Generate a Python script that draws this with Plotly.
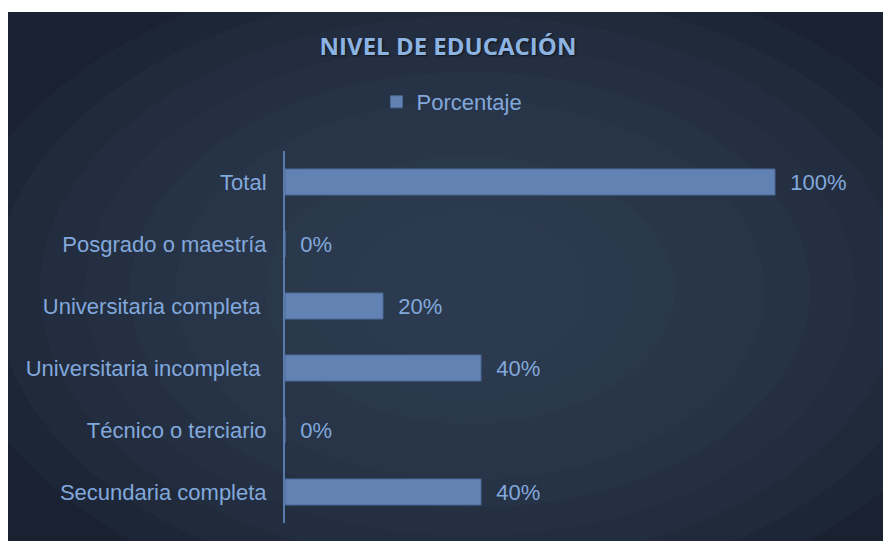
import plotly.graph_objects as go

categories = ["Total", "Posgrado o maestría", "Universitaria completa ", "Universitaria incompleta ",
              "Técnico o terciario", "Secundaria completa"]
values = [1.00, 0.00, 0.20, 0.40, 0.00, 0.40]
series_name = "Porcentaje"
title_text = "NIVEL DE EDUCACIÓN"

W, H = 891, 543
OFF = 8  # page body margin
L, T = 285 - OFF, 151 - OFF
Rpx, Bpx = 873 - OFF, 523 - OFF
R, B = W - Rpx, H - Bpx
pw, ph = Rpx - L, Bpx - T

def px(x):
    return (x - OFF - L) / pw

def py(y):
    return (Bpx - (y - OFF)) / ph

label_col = "#82a8dc"
fig = go.Figure()
fig.add_trace(go.Bar(
    y=categories, x=values, orientation="h", name=series_name,
    marker=dict(color="#6282b3", line=dict(color="#4a6896", width=1)),
    texttemplate="\u00a0\u00a0%{x:.0%}", textposition="outside",
    textfont=dict(family="Liberation Sans, Arial", size=22, color=label_col),
    cliponaxis=False, showlegend=True,
))

shapes = [dict(type="rect", xref="paper", yref="paper", x0=px(6), x1=px(905), y0=py(541), y1=py(12),
               fillcolor="#1a2232", line=dict(width=0), layer="below")]
cx, cy = 470, 290
for i in range(10):
    rx = 520 - i * 45
    ry = 330 - i * 28
    shapes.append(dict(type="circle", xref="paper", yref="paper",
                       x0=px(cx - rx), x1=px(cx + rx), y0=py(cy + ry), y1=py(cy - ry),
                       fillcolor="#34445e", opacity=0.13, line=dict(width=0), layer="below"))
shapes += [
    dict(type="rect", xref="paper", yref="paper", x0=px(-100), x1=px(6), y0=py(700), y1=py(-100),
         fillcolor="white", line=dict(width=0), layer="below"),
    dict(type="rect", xref="paper", yref="paper", x0=px(-100), x1=px(1000), y0=py(12), y1=py(-100),
         fillcolor="white", line=dict(width=0), layer="below"),
    dict(type="rect", xref="paper", yref="paper", x0=px(-100), x1=px(1000), y0=py(700), y1=py(541),
         fillcolor="white", line=dict(width=0), layer="below"),
]

fig.update_layout(
    width=W, height=H,
    margin=dict(l=L, r=R, t=T, b=B, pad=0),
    paper_bgcolor="white", plot_bgcolor="rgba(0,0,0,0)",
    bargap=0.58,
    shapes=shapes,
    title=dict(text=f"<b>{title_text}</b>", xref="container", x=(448 - OFF) / W, yref="container",
               y=1 - (47 - OFF) / H, xanchor="center", yanchor="middle",
               font=dict(family="Open Sans", size=24, color="#8db3e2",
                         shadow="1px 1px 2px #0d1118")),
    legend=dict(orientation="h", xref="container", yref="container", x=(452 - OFF) / W,
                y=1 - (102 - OFF) / H,
                xanchor="center", yanchor="middle", bgcolor="rgba(0,0,0,0)",
                font=dict(family="Liberation Sans, Arial", size=22, color=label_col),
                itemwidth=30),
    font=dict(family="Liberation Sans, Arial"),
)
fig.update_xaxes(range=[0, 1.2], visible=False, showgrid=False, zeroline=False)
fig.update_yaxes(autorange="reversed", showline=True, linecolor="#5a7aab", linewidth=2,
                 showgrid=False, zeroline=False, ticks="", ticklabelstandoff=12,
                 tickfont=dict(family="Liberation Sans, Arial", size=22, color=label_col))

fig.write_html("out.html")
